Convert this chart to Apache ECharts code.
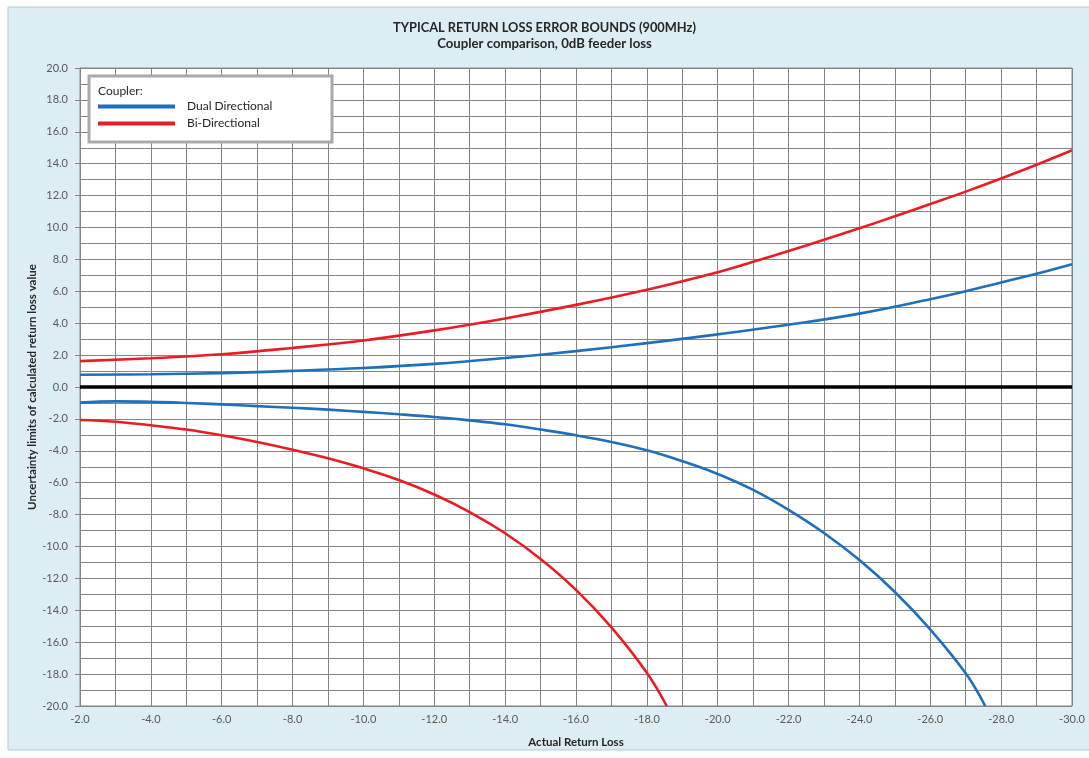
<!DOCTYPE html>
<html>
<head>
<meta charset="utf-8">
<script src="https://cdn.jsdelivr.net/npm/echarts@6/dist/echarts.min.js"></script>
<style>
html,body{margin:0;padding:0;background:#fff;}
#c{width:1089px;height:758px;}
</style>
</head>
<body>
<div id="c"></div>
<script>
// ---- data ----
const titleText = 'TYPICAL RETURN LOSS ERROR BOUNDS (900MHz)';
const subtitleText = 'Coupler comparison, 0dB feeder loss';
const xAxisName = 'Actual Return Loss';
const yAxisName = 'Uncertainty limits of calculated return loss value';
const legendTitle = 'Coupler:';
const seriesNames = ['Dual Directional', 'Bi-Directional'];

const dualUpperX = [-2, -4, -6, -8, -10, -12, -14, -16, -18, -20, -22, -24, -26, -27, -28, -29, -30];
const dualUpperY = [0.77, 0.80, 0.87, 1.01, 1.19, 1.45, 1.82, 2.25, 2.75, 3.3, 3.9, 4.6, 5.5, 6.0, 6.55, 7.1, 7.7];

const dualLowerX = [-2, -3, -4, -5, -6, -7, -8, -9, -10, -11, -12, -13, -14, -15, -16, -17, -18, -19, -20, -21, -22, -23, -24, -25, -26, -27, -27.55];
const dualLowerY = [-0.98, -0.9, -0.93, -1.0, -1.09, -1.2, -1.3, -1.42, -1.56, -1.71, -1.88, -2.09, -2.34, -2.67, -3.03, -3.45, -3.97, -4.65, -5.45, -6.45, -7.7, -9.15, -10.85, -12.85, -15.2, -17.95, -20];

const biUpperX = [-2, -4, -6, -8, -10, -12, -14, -16, -18, -20, -21, -22, -23, -24, -25, -26, -27, -28, -29, -30];
const biUpperY = [1.62, 1.8, 2.05, 2.45, 2.92, 3.55, 4.3, 5.15, 6.1, 7.2, 7.85, 8.53, 9.23, 9.95, 10.7, 11.47, 12.25, 13.07, 13.93, 14.84];

const biLowerX = [-2, -3, -4, -5, -6, -7, -8, -9, -10, -11, -12, -13, -14, -15, -16, -17, -18, -18.56];
const biLowerY = [-2.07, -2.18, -2.4, -2.67, -3.03, -3.45, -3.93, -4.47, -5.1, -5.83, -6.74, -7.84, -9.17, -10.78, -12.72, -15.07, -17.92, -20];

const xMin = -30, xMax = -2, xStep = 2;
const yMin = -20, yMax = 20, yStep = 2;

const blue = '#1f6fbd';
const red = '#ec1c24';

function pairs(xs, ys){ return xs.map((x,i)=>[x, ys[i]]); }

const chart = echarts.init(document.getElementById('c'));
const font = 'Lato, "Open Sans", sans-serif';
const gridColor = '#858585';

function lineSeries(name, color, data, extra){
  return Object.assign({
    name: name, type: 'line', data: data, smooth: 0.4, showSymbol: false, symbol: 'none',
    lineStyle: {color: color, width: 2.6}, itemStyle: {color: color}, z: 3, silent: true
  }, extra || {});
}

chart.setOption({
  animation: false,
  backgroundColor: '#ffffff',
  textStyle: {fontFamily: font},
  graphic: [
    {type: 'rect', z: -10, shape: {x: 8, y: 7, width: 1090, height: 743},
     style: {fill: '#dcedf3', stroke: '#b7c9d1', lineWidth: 1}},
    {type: 'rect', z: 10, shape: {x: 89, y: 76, width: 243, height: 66},
     style: {fill: '#ffffff', stroke: '#a9a9a9', lineWidth: 3}},
    {type: 'text', z: 11, left: 98, top: 85,
     style: {text: legendTitle, font: '12px ' + font, fill: '#262626'}}
  ],
  title: {
    text: titleText, subtext: subtitleText, left: 'center', top: 16, itemGap: 3,
    textStyle: {fontSize: 12.8, fontWeight: 'bold', color: '#262626', fontFamily: font},
    subtextStyle: {fontSize: 13.2, fontWeight: 'bold', color: '#262626', fontFamily: font}
  },
  legend: {
    data: seriesNames.map(n => ({name: n, icon: 'rect'})),
    orient: 'vertical', left: 98, top: 100, padding: 0, itemWidth: 77, itemHeight: 4, itemGap: 4, z: 12,
    selectedMode: false,
    textStyle: {fontSize: 12, color: '#262626', fontFamily: font, lineHeight: 13, padding: [0,0,0,7]}
  },
  grid: {left: 80, right: 17, top: 68, bottom: 52, show: true, backgroundColor: '#ffffff', borderColor: gridColor, borderWidth: 1},
  xAxis: {
    type: 'value', min: xMin, max: xMax, interval: xStep, inverse: true,
    name: xAxisName, nameLocation: 'middle', nameGap: 30,
    nameTextStyle: {fontSize: 11.5, fontWeight: 'bold', color: '#262626', fontFamily: font},
    axisLine: {show: true, lineStyle: {color: gridColor}},
    axisTick: {show: false},
    axisLabel: {formatter: v => v.toFixed(1), fontSize: 11, color: '#595959', margin: 8, fontFamily: font},
    splitLine: {show: true, lineStyle: {color: gridColor, width: 1}},
    minorTick: {show: false, splitNumber: 2},
    minorSplitLine: {show: true, lineStyle: {color: gridColor, width: 1}}
  },
  yAxis: {
    type: 'value', min: yMin, max: yMax, interval: yStep,
    name: yAxisName, nameLocation: 'middle', nameGap: 42, nameRotate: 90, nameMoveOverlap: false,
    nameTextStyle: {fontSize: 11.5, fontWeight: 'bold', color: '#262626', fontFamily: font},
    axisLine: {show: true, lineStyle: {color: gridColor}},
    axisTick: {show: true, inside: false, length: 5, lineStyle: {color: gridColor}},
    axisLabel: {formatter: v => v.toFixed(1), fontSize: 11, color: '#595959', margin: 12, fontFamily: font},
    splitLine: {show: true, lineStyle: {color: gridColor, width: 1}},
    minorTick: {show: false, splitNumber: 2},
    minorSplitLine: {show: true, lineStyle: {color: gridColor, width: 1}}
  },
  series: [
    lineSeries(seriesNames[0], blue, pairs(dualUpperX, dualUpperY), {
      markLine: {silent: true, symbol: 'none', label: {show: false}, z: 2,
        lineStyle: {color: '#000000', width: 3.5, type: 'solid'}, data: [{yAxis: 0}]}
    }),
    lineSeries(seriesNames[0], blue, pairs(dualLowerX, dualLowerY)),
    lineSeries(seriesNames[1], red, pairs(biUpperX, biUpperY)),
    lineSeries(seriesNames[1], red, pairs(biLowerX, biLowerY))
  ]
});
</script>
</body>
</html>
